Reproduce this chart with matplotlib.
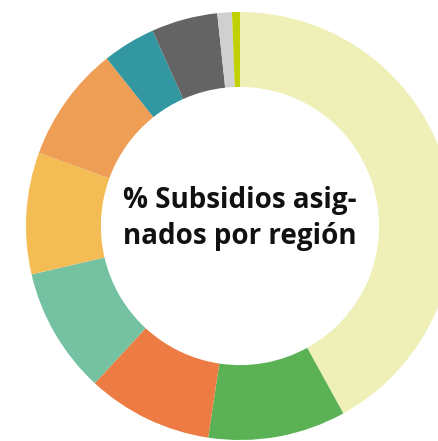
import matplotlib
matplotlib.use("Agg")
from matplotlib import pyplot as plt

# shares by region, clockwise from the top
regiones = ["R1", "R2", "R3", "R4", "R5", "R6", "R7", "R8", "R9", "R10"]
porcentajes = [42.0, 10.4, 9.5, 9.5, 9.2, 8.75, 4.0, 5.0, 1.1, 0.6]
colores = ["#EEF0B8", "#5BB255", "#EC7C43", "#74C2A1", "#F4BC55",
           "#EE9F55", "#3397A2", "#646464", "#D0D0D0", "#C0D000"]

W, H = 438, 441
fig = plt.figure(figsize=(W / 100, H / 100), dpi=100)
cx, cy, r = 240, 215, 214
ax = fig.add_axes([(cx - r) / W, (cy - r) / H, 2 * r / W, 2 * r / H])

ax.pie(porcentajes, colors=colores, startangle=90, counterclock=False,
       radius=1, wedgeprops=dict(width=0.35, linewidth=0))
ax.set_xlim(-1, 1)
ax.set_ylim(-1, 1)
ax.set_aspect("auto")
ax.axis("off")

ax.text(0, 0.035, "% Subsidios asig-\nnados por región", ha="center", va="center",
        fontsize=20, fontweight="bold", family="Open Sans", linespacing=1.32,
        color="#111111")

fig.savefig("out.png", dpi=100)
